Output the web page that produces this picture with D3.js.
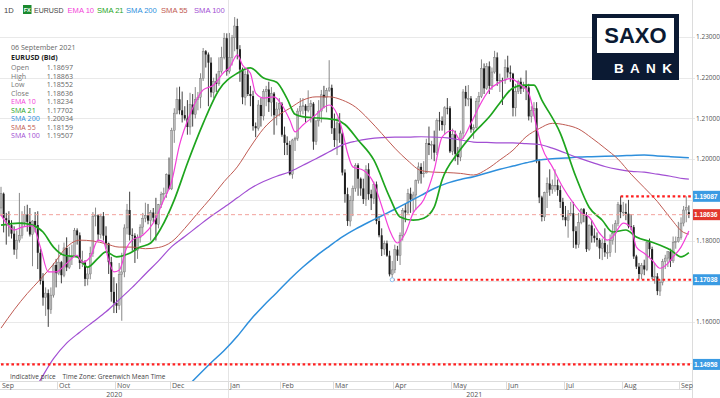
<!DOCTYPE html>
<html><head><meta charset="utf-8">
<script src="https://cdn.jsdelivr.net/npm/d3@7/dist/d3.min.js"></script>
<style>
body{margin:0;background:#fff}
svg{display:block;font-family:"Open Sans","Liberation Sans",sans-serif}
</style></head>
<body><svg id="chart" width="720" height="398"></svg>
<script>
// ---------- DATA (EURUSD daily, 1 Sep 2020 – 6 Sep 2021) ----------
const holidays = ["2020-12-25", "2021-01-01"];
const firstDay = "2020-09-01", lastDay = "2021-09-06";

const open = [
 1.1880,1.1915,1.1855,1.1850,1.1838,1.1817,1.1778,1.1801,1.1813,1.1845,1.1864,1.1846,1.1815,1.1848,1.1838,1.1770,1.1701,1.1660,1.1671,1.1631,1.1666,1.1740,
 1.1720,1.1747,1.1715,1.1782,1.1734,1.1760,1.1761,1.1825,1.1813,1.1745,1.1746,1.1706,1.1718,1.1769,1.1860,1.1862,1.1815,1.1860,1.1812,1.1793,1.1747,1.1674,
 1.1647,1.1640,1.1716,1.1723,1.1831,1.1875,1.1814,1.1812,1.1776,1.1807,1.1833,1.1855,1.1862,1.1849,1.1869,1.1856,1.1840,1.1888,1.1914,1.1916,1.1962,
 1.1927,1.2071,1.2113,1.2147,1.2120,1.2108,1.2100,1.2079,1.2134,1.2110,1.2147,1.2152,1.2198,1.2265,1.2257,1.2237,1.2164,1.2191,1.2185,1.2216,1.2250,1.2297,
 1.2216,1.2250,1.2298,1.2327,1.2270,1.2220,1.2152,1.2208,1.2160,1.2155,1.2081,1.2076,1.2133,1.2106,1.2166,1.2171,1.2140,1.2161,1.2108,1.2123,
 1.2136,1.2060,1.2040,1.2035,1.1963,1.2047,1.2051,1.2118,1.2130,1.2131,1.2119,1.2130,1.2136,1.2043,1.2094,1.2118,1.2158,1.2152,1.2169,1.2175,
 1.2076,1.2047,1.2089,1.2063,1.1967,1.1914,1.1848,1.1898,1.1928,1.1985,1.1952,1.1928,1.1902,1.1975,1.1914,1.1904,1.1938,1.1848,1.1813,1.1779,1.1793,1.1763,1.1717,
 1.1728,1.1778,1.1763,1.1813,1.1874,1.1869,1.1915,1.1901,1.1912,1.1947,1.1981,1.1964,1.1966,1.2039,1.2035,1.2036,1.2016,1.2095,1.2094,1.2084,1.2126,1.2125,
 1.2019,1.2061,1.2013,1.2005,1.2064,1.2165,1.2149,1.2149,1.2073,1.2077,1.2142,1.2154,1.2223,1.2174,1.2228,1.2180,1.2214,1.2250,1.2192,1.2194,1.2193,
 1.2225,1.2213,1.2210,1.2126,1.2166,1.2190,1.2173,1.2180,1.2176,1.2105,1.2120,1.2125,1.1995,1.1906,1.1858,1.1918,1.1940,1.1925,1.1935,1.1936,1.1924,1.1895,
 1.1858,1.1850,1.1865,1.1867,1.1823,1.1790,1.1844,1.1877,1.1862,1.1779,1.1837,1.1812,1.1806,1.1802,1.1781,1.1794,1.1771,1.1771,1.1800,1.1818,1.1842,1.1888,
 1.1870,1.1870,1.1866,1.1835,1.1833,1.1761,1.1736,1.1718,1.1739,1.1729,1.1796,1.1779,1.1711,1.1712,1.1676,1.1697,1.1748,1.1757,1.1773,1.1750,1.1795,1.1797,
 1.1807,1.1843,1.1875,1.18697
];
const high = [
 1.1932,1.1918,1.1868,1.1872,1.1850,1.1835,1.1825,1.1917,1.1872,1.1885,1.1888,1.1880,1.1850,1.1870,1.1872,1.1780,1.1720,1.1685,1.1680,1.1685,1.1745,1.1755,
 1.1790,1.1750,1.1795,1.1808,1.1785,1.1790,1.1831,1.1830,1.1820,1.1775,1.1752,1.1735,1.1785,1.1870,1.1881,1.1865,1.1866,1.1870,1.1835,1.1795,1.1760,1.1710,
 1.1695,1.1745,1.1770,1.1840,1.1890,1.1920,1.1830,1.1818,1.1815,1.1840,1.1868,1.1893,1.1890,1.1875,1.1880,1.1905,1.1890,1.1920,1.1930,1.1965,1.2004,
 1.2077,1.2125,1.2176,1.2178,1.2166,1.2130,1.2145,1.2163,1.2160,1.2177,1.2165,1.2211,1.2273,1.2268,1.2262,1.2250,1.2200,1.2210,1.2250,1.2276,1.2310,1.2309,
 1.2310,1.2305,1.2349,1.2345,1.2280,1.2225,1.2218,1.2222,1.2180,1.2168,1.2090,1.2145,1.2150,1.2172,1.2180,1.2190,1.2177,1.2165,1.2140,1.2150,
 1.2140,1.2080,1.2056,1.2045,1.2050,1.2055,1.2125,1.2150,1.2150,1.2135,1.2169,1.2145,1.2140,1.2095,1.2145,1.2170,1.2180,1.2175,1.2243,1.2183,
 1.2112,1.2102,1.2113,1.2068,1.1975,1.1930,1.1910,1.1935,1.1990,1.1990,1.1955,1.1952,1.1985,1.1990,1.1925,1.1945,1.1945,1.1860,1.1830,1.1800,1.1800,1.1775,1.1750,
 1.1790,1.1787,1.1820,1.1880,1.1890,1.1927,1.1930,1.1920,1.1950,1.1992,1.1990,1.1995,1.2050,1.2080,1.2045,1.2070,1.2100,1.2116,1.2105,1.2130,1.2150,1.2130,
 1.2075,1.2070,1.2030,1.2070,1.2172,1.2180,1.2182,1.2155,1.2085,1.2150,1.2165,1.2245,1.2235,1.2236,1.2240,1.2225,1.2266,1.2262,1.2210,1.2200,1.2245,
 1.2254,1.2230,1.2212,1.2185,1.2195,1.2200,1.2190,1.2218,1.2185,1.2130,1.2140,1.2140,1.2000,1.1910,1.1920,1.1955,1.1975,1.1950,1.1975,1.1950,1.1935,1.1905,
 1.1885,1.1875,1.1895,1.1895,1.1835,1.1868,1.1880,1.1880,1.1870,1.1840,1.1850,1.1830,1.1820,1.1806,1.1805,1.1830,1.1790,1.1815,1.1840,1.1850,1.1895,1.19087,
 1.1895,1.1891,1.1900,1.1865,1.1838,1.1765,1.1745,1.1745,1.1753,1.1800,1.1805,1.1785,1.1745,1.1720,1.1705,1.1755,1.1765,1.1773,1.1780,1.1810,1.1810,1.1846,
 1.1857,1.1885,1.19087,1.18863
];
const low = [
 1.1860,1.1820,1.1790,1.1810,1.1805,1.1765,1.1755,1.1795,1.1805,1.1835,1.1822,1.1810,1.1737,1.1820,1.1730,1.1692,1.1640,1.1615,1.1588,1.1620,1.1660,1.1685,
 1.1715,1.1695,1.1710,1.1725,1.1730,1.1740,1.1760,1.1790,1.1730,1.1735,1.1688,1.1690,1.1705,1.1760,1.1835,1.1800,1.1805,1.1800,1.1780,1.1718,1.1650,1.1622,
 1.1622,1.1630,1.1603,1.1710,1.1815,1.1800,1.1775,1.1745,1.1755,1.1795,1.1815,1.1845,1.1840,1.1800,1.1845,1.1800,1.1830,1.1880,1.1900,1.1905,1.1925,
 1.1924,1.2040,1.2110,1.2110,1.2090,1.2095,1.2060,1.2060,1.2080,1.2100,1.2120,1.2125,1.2192,1.2225,1.2130,1.2152,1.2150,1.2165,1.2180,1.2210,1.2245,1.2205,
 1.2210,1.2230,1.2265,1.2245,1.2190,1.2135,1.2132,1.2155,1.2130,1.2070,1.2054,1.2070,1.2080,1.2095,1.2130,1.2116,1.2105,1.2060,1.2083,1.2105,
 1.2055,1.2010,1.2010,1.1960,1.1952,1.2020,1.2045,1.2105,1.2110,1.2090,1.2115,1.2090,1.2023,1.2035,1.2080,1.2090,1.2125,1.2115,1.2165,1.2062,
 1.2030,1.2010,1.2040,1.1960,1.1893,1.1836,1.1835,1.1860,1.1920,1.1910,1.1910,1.1890,1.1885,1.1900,1.1875,1.1890,1.1840,1.1808,1.1762,1.1765,1.1760,1.1712,1.17038,
 1.1720,1.1750,1.1740,1.1800,1.1845,1.1865,1.1868,1.1870,1.1875,1.1940,1.1940,1.1955,1.1965,1.2010,1.2000,1.1995,1.2010,1.2070,1.2070,1.2060,1.2110,1.2015,
 1.2010,1.1995,1.1986,1.1995,1.2050,1.2130,1.2130,1.2065,1.2050,1.2075,1.2128,1.2150,1.2160,1.2170,1.2160,1.2170,1.2210,1.2180,1.2165,1.2133,1.2185,
 1.2200,1.2190,1.2105,1.2105,1.2160,1.2160,1.2165,1.2145,1.2095,1.2090,1.2105,1.1990,1.1892,1.1847,1.1848,1.1880,1.1910,1.1915,1.1920,1.1910,1.1880,1.1850,
 1.1835,1.1807,1.1860,1.1782,1.1780,1.1782,1.1840,1.1845,1.1772,1.1775,1.1795,1.1795,1.1785,1.1755,1.1752,1.1760,1.1755,1.1760,1.1790,1.1770,1.1835,1.1855,
 1.1860,1.1850,1.1830,1.1825,1.1755,1.1730,1.1705,1.1705,1.1715,1.1725,1.1760,1.1705,1.1694,1.1666,1.1664,1.1690,1.1730,1.1735,1.1735,1.1745,1.1780,1.1795,
 1.1802,1.1835,1.1845,1.18552
];
const close = [
 1.1915,1.1855,1.1850,1.1838,1.1817,1.1778,1.1801,1.1813,1.1845,1.1864,1.1846,1.1815,1.1848,1.1838,1.1770,1.1701,1.1660,1.1671,1.1631,1.1666,1.1740,1.1720,
 1.1747,1.1715,1.1782,1.1734,1.1760,1.1761,1.1825,1.1813,1.1745,1.1746,1.1706,1.1718,1.1769,1.1860,1.1862,1.1815,1.1860,1.1812,1.1793,1.1747,1.1674,1.1647,
 1.1640,1.1716,1.1723,1.1831,1.1875,1.1814,1.1812,1.1776,1.1807,1.1833,1.1855,1.1862,1.1849,1.1869,1.1856,1.1840,1.1888,1.1914,1.1916,1.1962,1.1927,
 1.2071,1.2113,1.2147,1.2120,1.2108,1.2100,1.2079,1.2134,1.2110,1.2147,1.2152,1.2198,1.2265,1.2257,1.2237,1.2164,1.2191,1.2185,1.2216,1.2250,1.2297,1.2216,
 1.2250,1.2298,1.2327,1.2270,1.2220,1.2152,1.2208,1.2160,1.2155,1.2081,1.2076,1.2133,1.2106,1.2166,1.2171,1.2140,1.2161,1.2108,1.2123,1.2136,
 1.2060,1.2040,1.2035,1.1963,1.2047,1.2051,1.2118,1.2130,1.2131,1.2119,1.2130,1.2136,1.2043,1.2094,1.2118,1.2158,1.2152,1.2169,1.2175,1.2076,
 1.2047,1.2089,1.2063,1.1967,1.1914,1.1848,1.1898,1.1928,1.1985,1.1952,1.1928,1.1902,1.1975,1.1914,1.1904,1.1938,1.1848,1.1813,1.1779,1.1793,1.1763,1.1717,1.1728,
 1.1778,1.1763,1.1813,1.1874,1.1869,1.1915,1.1901,1.1912,1.1947,1.1981,1.1964,1.1966,1.2039,1.2035,1.2036,1.2016,1.2095,1.2094,1.2084,1.2126,1.2125,1.2019,
 1.2061,1.2013,1.2005,1.2064,1.2165,1.2149,1.2149,1.2073,1.2077,1.2142,1.2154,1.2223,1.2174,1.2228,1.2180,1.2214,1.2250,1.2192,1.2194,1.2193,1.2225,
 1.2213,1.2210,1.2126,1.2166,1.2190,1.2173,1.2180,1.2176,1.2105,1.2120,1.2125,1.1995,1.1906,1.1858,1.1918,1.1940,1.1925,1.1935,1.1936,1.1924,1.1895,1.1858,
 1.1850,1.1865,1.1867,1.1823,1.1790,1.1844,1.1877,1.1862,1.1779,1.1837,1.1812,1.1806,1.1802,1.1781,1.1794,1.1771,1.1771,1.1800,1.1818,1.1842,1.1888,1.1870,
 1.1870,1.1866,1.1835,1.1833,1.1761,1.1736,1.1718,1.1739,1.1729,1.1796,1.1779,1.1711,1.1712,1.1676,1.1697,1.1748,1.1757,1.1773,1.1750,1.1795,1.1797,1.1807,
 1.1843,1.1875,1.1882,1.18636
];

// moving averages: [trading-day number, value]
const ema10 = [[0,1.1863],[2,1.1843],[5,1.1826],[8,1.1833],[12,1.1836],[15,1.1784],[18,1.1723],[21,1.1723],[25,1.1744],[29,1.1764],[31,1.1747],[34,1.1760],[37,1.1801],[39,1.1797],[41,1.1752],[43,1.1723],[45,1.1727],[48,1.1784],[50,1.1801],[54,1.1813],[58,1.1843],[62,1.1900],[65,1.1945],[68,1.2035],[72,1.2110],[77,1.2170],[81,1.2182],[85,1.2214],[87,1.2224],[90,1.2256],[92,1.2231],[95,1.2211],[97,1.2162],[100,1.2150],[104,1.2153],[107,1.2133],[110,1.2096],[112,1.2067],[115,1.2084],[119,1.2104],[125,1.2133],[128,1.2110],[130,1.2070],[132,1.2015],[134,1.1981],[138,1.1973],[142,1.1941],[145,1.1885],[148,1.1826],[151,1.1794],[154,1.1818],[157,1.1868],[161,1.1900],[165,1.1973],[168,1.2054],[172,1.2071],[175,1.2047],[179,1.2088],[182,1.2128],[186,1.2170],[190,1.2189],[194,1.2198],[198,1.2182],[201,1.2162],[204,1.2079],[206,1.2030],[210,1.1981],[214,1.1931],[218,1.1892],[221,1.1868],[224,1.1858],[228,1.1818],[231,1.1801],[233,1.1809],[237,1.1843],[240,1.1831],[242,1.1784],[245,1.1769],[248,1.1752],[251,1.1732],[254,1.1744],[256,1.1760],[259,1.1784],[262,1.18234]];
const sma21 = [[0,1.1838],[7,1.1843],[12,1.1838],[16,1.1821],[20,1.1784],[24,1.1764],[29,1.1760],[33,1.1735],[37,1.1757],[40,1.1772],[44,1.1760],[49,1.1769],[53,1.1784],[57,1.1794],[61,1.1831],[66,1.1900],[71,1.1990],[77,1.2088],[83,1.2170],[90,1.2211],[95,1.2224],[100,1.2199],[105,1.2189],[109,1.2148],[112,1.2110],[116,1.2103],[121,1.2101],[128,1.2096],[131,1.2085],[136,1.2047],[142,1.1998],[148,1.1907],[152,1.1858],[157,1.1850],[161,1.1855],[165,1.1882],[168,1.1949],[174,1.2015],[180,1.2064],[186,1.2104],[190,1.2138],[195,1.2175],[199,1.2182],[203,1.2182],[206,1.2145],[213,1.2064],[219,1.1956],[224,1.1882],[229,1.1850],[233,1.1821],[238,1.1826],[242,1.1809],[248,1.1796],[255,1.1777],[259,1.1760],[262,1.17702]];
const sma55 = [[0,1.1585],[5,1.1630],[10,1.1670],[15,1.1705],[20,1.1742],[25,1.1784],[30,1.1801],[35,1.1799],[40,1.1792],[45,1.1784],[50,1.1784],[55,1.1780],[60,1.1783],[65,1.1797],[70,1.1830],[75,1.1868],[80,1.1905],[85,1.1945],[90,1.1981],[95,1.2030],[100,1.2075],[105,1.2105],[110,1.2125],[115,1.2145],[120,1.2153],[125,1.2153],[130,1.2145],[135,1.2128],[140,1.2098],[145,1.2063],[150,1.2027],[155,1.1996],[160,1.1972],[165,1.1968],[170,1.1967],[175,1.1965],[180,1.1961],[185,1.1975],[190,1.1998],[195,1.2022],[200,1.2055],[205,1.2075],[210,1.2088],[215,1.2084],[220,1.2074],[225,1.2052],[230,1.2027],[235,1.2000],[240,1.1963],[245,1.1930],[250,1.1896],[255,1.1855],[260,1.1820],[262,1.18159]];
const sma100 = [[5,1.1360],[10,1.1405],[15,1.1458],[20,1.1510],[25,1.1548],[30,1.1575],[35,1.1600],[40,1.1625],[45,1.1655],[50,1.1685],[55,1.1718],[60,1.1750],[65,1.1785],[70,1.1810],[75,1.1835],[80,1.1860],[85,1.1882],[90,1.1905],[95,1.1928],[100,1.1945],[105,1.1958],[110,1.1969],[115,1.1985],[120,1.2001],[125,1.2018],[130,1.2035],[135,1.2044],[140,1.2050],[145,1.2053],[150,1.2054],[155,1.2054],[160,1.2055],[165,1.2054],[170,1.2052],[175,1.2047],[180,1.2042],[185,1.2041],[190,1.2040],[195,1.2040],[200,1.2038],[205,1.2036],[210,1.2027],[215,1.2015],[220,1.2003],[225,1.1992],[230,1.1982],[235,1.1975],[240,1.1970],[245,1.1968],[250,1.1963],[255,1.1958],[260,1.1952],[262,1.19507]];
const sma200 = [[70,1.1435],[75,1.1468],[80,1.1500],[85,1.1530],[90,1.1565],[95,1.1605],[100,1.1640],[105,1.1672],[110,1.1705],[115,1.1735],[120,1.1762],[125,1.1786],[130,1.1809],[135,1.1828],[140,1.1845],[145,1.1861],[150,1.1877],[155,1.1894],[160,1.1911],[165,1.1928],[170,1.1941],[175,1.1950],[180,1.1957],[185,1.1966],[190,1.1975],[195,1.1983],[200,1.1991],[205,1.1998],[210,1.2001],[215,1.2003],[220,1.2005],[225,1.2006],[230,1.2007],[235,1.2008],[240,1.2009],[245,1.2010],[250,1.2008],[255,1.2006],[260,1.2004],[262,1.20034]];

const maNames  = ["EMA 10","SMA 21","SMA 200","SMA 55","SMA 100"];
const maLast   = ["1.18234","1.17702","1.20034","1.18159","1.19507"];
const priceTicks = [1.15,1.16,1.17,1.18,1.19,1.20,1.21,1.22,1.23];
// horizontal level lines: value, first trading-day number
const levelValues = [1.19087, 1.17038, 1.14958];
const levelStarts = [236, 149, 0];
const lastClose = 1.18636;
const legendLabels = ["Open","High","Low","Close"];
const legendValues = ["1.18697","1.18863","1.18552","1.18636"];

// ---------- SETUP ----------
const svg = d3.select("#chart");
const W = 720, H = 398;
const plotR = 692, plotB = 381;
const C = {ema10:"#f33fd9", sma21:"#1ea51e", sma200:"#2e8fdc", sma55:"#bf5a52", sma100:"#a24fd3",
           level:"#ff1f1f", closeLine:"#f2a19b", grid:"#e9e9e9", axis:"#dcdcdc", text:"#555", blueLbl:"#3a9be3", redLbl:"#e2372e"};
const maColors = [C.ema10, C.sma21, C.sma200, C.sma55, C.sma100];

const parse = d3.timeParse("%Y-%m-%d"), fmtD = d3.timeFormat("%Y-%m-%d");
const days = d3.timeDay.range(parse(firstDay), d3.timeDay.offset(parse(lastDay),1))
  .filter(d => d.getDay() % 6 !== 0 && !holidays.includes(fmtD(d)));

const x = d3.scaleLinear().domain([0, 259]).range([1, 681]);
const step = x(1) - x(0);
const y = d3.scaleLinear().domain([1.16, 1.23]).range([322, 37]);

svg.append("rect").attr("width",W).attr("height",H).attr("fill","#fff");
svg.append("defs").append("clipPath").attr("id","clip")
  .append("rect").attr("x",0).attr("y",0).attr("width",plotR).attr("height",plotB);

// grid
svg.append("g").selectAll("line").data(priceTicks).join("line")
  .attr("x1",0).attr("x2",plotR+3).attr("y1",d=>Math.round(y(d))+0.5).attr("y2",d=>Math.round(y(d))+0.5)
  .attr("stroke",C.grid).attr("stroke-width",1);

// month ticks
const monthIdx = days.map((d,i)=>i).filter(i => i===0 || days[i].getMonth() !== days[i-1].getMonth());
const tickX = i => Math.round(x(i) - step*0.6) + 0.5;
const janIdx = monthIdx.find(i => days[i].getMonth() === 0);

// year separator + right border
svg.append("line").attr("x1",tickX(janIdx)).attr("x2",tickX(janIdx)).attr("y1",0).attr("y2",H)
  .attr("stroke","#e4e4e4");
svg.append("line").attr("x1",plotR+0.5).attr("x2",plotR+0.5).attr("y1",0).attr("y2",H).attr("stroke",C.axis);

// x axis frame
const axG = svg.append("g");
axG.append("line").attr("x1",0).attr("x2",plotR).attr("y1",plotB+0.5).attr("y2",plotB+0.5).attr("stroke",C.axis);
axG.append("line").attr("x1",0).attr("x2",plotR).attr("y1",389.5).attr("y2",389.5).attr("stroke",C.axis);
axG.selectAll("line.m").data(monthIdx).join("line").attr("class","m")
  .attr("x1",d=>tickX(d)).attr("x2",d=>tickX(d)).attr("y1",plotB).attr("y2",389.5).attr("stroke",C.axis);
axG.selectAll("text.m").data(monthIdx).join("text").attr("class","m")
  .attr("x",d=>Math.max(2,tickX(d)+1.5)).attr("y",387.5).attr("font-size",7).attr("fill",C.text)
  .text(d=>d3.timeFormat("%b")(days[d]));
const years = [[tickX(0), tickX(janIdx), "2020"], [tickX(janIdx), W, "2021"]];
axG.selectAll("text.y").data(years).join("text").attr("class","y")
  .attr("x",d=>(Math.max(0,d[0])+d[1])/2).attr("y",396.5).attr("text-anchor","middle")
  .attr("font-size",7).attr("fill",C.text).text(d=>d[2]);

// plot content
const plot = svg.append("g").attr("clip-path","url(#clip)");

// candles
const idx = d3.range(close.length);
const up = i => close[i] >= open[i];
plot.append("g").selectAll("line").data(idx).join("line")
  .attr("x1",i=>x(i)).attr("x2",i=>x(i)).attr("y1",i=>y(high[i])).attr("y2",i=>y(low[i]))
  .attr("stroke",i=>up(i)?"#7a7a7a":"#2a2a2a").attr("stroke-width",0.9);
plot.append("g").selectAll("rect").data(idx).join("rect")
  .attr("x",i=>x(i)-1).attr("width",2)
  .attr("y",i=>y(Math.max(open[i],close[i])))
  .attr("height",i=>Math.max(0.8, Math.abs(y(open[i])-y(close[i]))))
  .attr("fill",i=>up(i)?"#b9b9b9":"#1d1d1d")
  .attr("stroke",i=>up(i)?"#6e6e6e":"none").attr("stroke-width",0.4);

// moving averages
const line = d3.line().x(d=>x(d[0])).y(d=>y(d[1])).curve(d3.curveMonotoneX);
const maSeries = [
  [sma200, C.sma200, 1.5], [sma100, C.sma100, 1.2], [sma55, C.sma55, 1.0],
  [sma21, C.sma21, 1.7], [ema10, C.ema10, 1.2]
];
plot.append("g").selectAll("path").data(maSeries).join("path")
  .attr("d",d=>line(d[0])).attr("fill","none").attr("stroke",d=>d[1]).attr("stroke-width",d=>d[2]);

// last close dashed line
svg.append("line").attr("x1",0).attr("x2",plotR).attr("y1",y(lastClose)).attr("y2",y(lastClose))
  .attr("stroke",C.closeLine).attr("stroke-width",1).attr("stroke-dasharray","4,3");
// level lines
svg.append("g").selectAll("line").data(levelValues).join("line")
  .attr("x1",(d,i)=>Math.max(0,x(levelStarts[i]))).attr("x2",plotR)
  .attr("y1",d=>y(d)).attr("y2",d=>y(d))
  .attr("stroke",C.level).attr("stroke-width",2.2).attr("stroke-dasharray","2.6,2.6");
// low marker
svg.append("circle").attr("cx",x(levelStarts[1])).attr("cy",y(levelValues[1])).attr("r",2)
  .attr("fill","#fff").attr("stroke","#8cc4ef").attr("stroke-width",1);

// price axis labels
const marks = levelValues.concat([lastClose]);
svg.append("g").selectAll("text").data(priceTicks.filter(t => marks.every(m => Math.abs(y(m)-y(t)) > 8))).join("text")
  .attr("x",696).attr("y",d=>y(d)+2.3).attr("font-size",6.5).attr("fill",C.text).text(d=>d3.format(".5f")(d));
const lbls = levelValues.map(v=>[v,C.blueLbl]).concat([[lastClose,C.redLbl]]);
const lg = svg.append("g").selectAll("g").data(lbls).join("g");
lg.append("rect").attr("x",plotR+1).attr("y",d=>y(d[0])-5.5).attr("width",W-plotR).attr("height",11).attr("fill",d=>d[1]);
lg.append("text").attr("x",plotR+2).attr("y",d=>y(d[0])+2.6).attr("font-size",6.7).attr("font-weight","bold")
  .attr("font-family","Liberation Sans, Arial, sans-serif").attr("letter-spacing",-0.1)
  .attr("fill","#fff").text(d=>d3.format(".5f")(d[0]));

// header
const hdr = svg.append("g").attr("font-size",7.6).attr("font-family","Liberation Sans, Arial, sans-serif");
hdr.append("text").attr("x",4).attr("y",12.5).attr("fill","#444").text("1D");
hdr.append("rect").attr("x",23).attr("y",5).attr("width",8.5).attr("height",9).attr("fill","#1b8a2e");
hdr.append("text").attr("x",27.2).attr("y",12).attr("text-anchor","middle").attr("font-size",5.5).attr("font-weight","bold").attr("fill","#fff").text("FX");
hdr.append("text").attr("x",34).attr("y",12.5).attr("font-size",7).attr("fill","#444").text("EURUSD");
const hx = [67.5, 97, 126, 161, 194];
hdr.selectAll("text.ma").data(maNames).join("text").attr("class","ma")
  .attr("x",(d,i)=>hx[i]).attr("y",12.5).attr("fill",(d,i)=>maColors[i]).text(d=>d);

// info legend
const lgd = svg.append("g").attr("font-size",7.1);
lgd.append("text").attr("x",11).attr("y",50).attr("fill","#666").text("06 September 2021");
lgd.append("text").attr("x",11).attr("y",59.5).attr("fill","#222").attr("font-weight","bold").text("EURUSD (Bid)");
const rowY = i => 70 + i*8.55;
lgd.selectAll("text.l").data(legendLabels.concat(maNames)).join("text").attr("class","l")
  .attr("x",11).attr("y",(d,i)=>rowY(i)).attr("fill",(d,i)=> i<4 ? "#777" : maColors[i-4]).text(d=>d);
lgd.selectAll("text.v").data(legendValues.concat(maLast)).join("text").attr("class","v")
  .attr("x",73).attr("y",(d,i)=>rowY(i)).attr("text-anchor","end").attr("fill","#666").text(d=>d);

// footer note
svg.append("text").attr("x",10).attr("y",379).attr("font-size",6.5).attr("fill","#444")
  .text("Indicative price    Time Zone: Greenwich Mean Time").attr("xml:space","preserve");

// logo
const logo = svg.append("g");
logo.append("rect").attr("x",592).attr("y",14).attr("width",87).attr("height",66).attr("fill","#0b1a33");
logo.append("rect").attr("x",597).attr("y",18).attr("width",77).attr("height",35).attr("fill","#fff");
logo.append("text").attr("x",635.5).attr("y",43).attr("text-anchor","middle").attr("font-size",22)
  .attr("font-weight","bold").attr("font-family","Liberation Sans, Arial, sans-serif").attr("fill","#0b1a33").text("SAXO");
logo.append("text").attr("x",614).attr("y",73).attr("font-size",13.5).attr("letter-spacing",6.3)
  .attr("font-weight","bold").attr("font-family","Liberation Sans, Arial, sans-serif").attr("fill","#fff").text("BANK");
</script></body></html>
